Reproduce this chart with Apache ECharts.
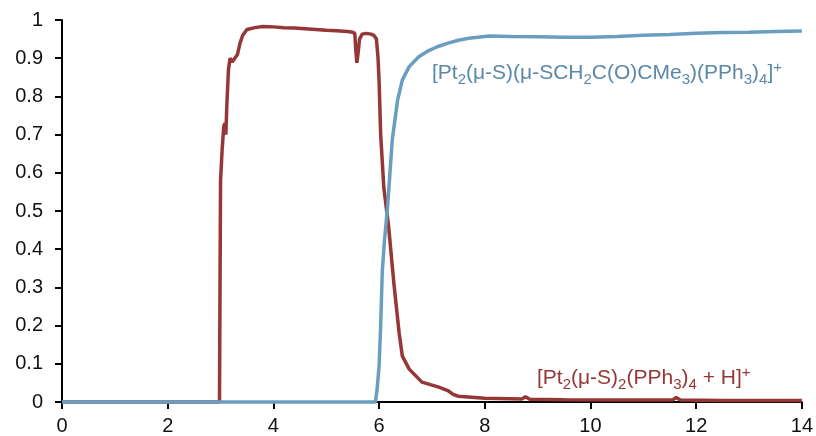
<!DOCTYPE html>
<html>
<head>
<meta charset="utf-8">
<script src="https://cdn.jsdelivr.net/npm/echarts@6/dist/echarts.min.js"></script>
<style>
  html, body { margin: 0; padding: 0; background: #fff; }
  #main { width: 816px; height: 436px; }
</style>
</head>
<body>
<div id="main"></div>
<script>
// data
var redX = [0, 2.98, 2.99, 3.0, 3.03, 3.06, 3.08, 3.1, 3.12, 3.15, 3.18, 3.22, 3.27, 3.32, 3.37, 3.42, 3.5, 3.65, 3.8, 4.0, 4.2, 4.4, 4.6, 4.8, 5.0, 5.2, 5.4, 5.5, 5.54, 5.56, 5.58, 5.6, 5.63, 5.68, 5.75, 5.85, 5.9, 5.95, 5.98, 6.0, 6.03, 6.09, 6.18, 6.28, 6.38, 6.44, 6.57, 6.81, 7.13, 7.3, 7.4, 7.5, 8.0, 8.7, 8.77, 8.85, 9.5, 10.5, 11.55, 11.62, 11.7, 12.5, 14];
var redY = [0, 0, 0.3, 0.58, 0.66, 0.72, 0.73, 0.70, 0.78, 0.87, 0.90, 0.89, 0.90, 0.91, 0.94, 0.96, 0.975, 0.98, 0.983, 0.982, 0.98, 0.979, 0.977, 0.975, 0.973, 0.972, 0.97, 0.968, 0.965, 0.92, 0.888, 0.91, 0.95, 0.963, 0.965, 0.963, 0.96, 0.95, 0.90, 0.84, 0.70, 0.56, 0.46, 0.31, 0.18, 0.12, 0.086, 0.052, 0.039, 0.03, 0.02, 0.015, 0.01, 0.008, 0.014, 0.007, 0.006, 0.005, 0.005, 0.012, 0.005, 0.004, 0.004];
var blueX = [0, 5.93, 5.96, 6.0, 6.03, 6.06, 6.1, 6.16, 6.25, 6.35, 6.44, 6.57, 6.75, 6.94, 7.1, 7.32, 7.5, 7.7, 8.08, 8.5, 9.0, 9.5, 10.0, 10.5, 11.0, 11.5, 12.0, 12.5, 13.0, 13.5, 14];
var blueY = [0, 0, 0.03, 0.094, 0.2, 0.34, 0.42, 0.51, 0.687, 0.79, 0.843, 0.878, 0.904, 0.92, 0.93, 0.94, 0.947, 0.952, 0.958, 0.957, 0.956, 0.955, 0.955, 0.957, 0.96, 0.962, 0.965, 0.967, 0.968, 0.97, 0.971];

var redColor = '#953735';
var blueColor = '#6a9ec0';

function pairs(xs, ys) {
    var out = [];
    for (var i = 0; i < xs.length; i++) out.push([xs[i], ys[i]]);
    return out;
}

var chart = echarts.init(document.getElementById('main'));

// rich text styles for the formula labels (sub / superscripts)
function richFor(color) {
    return {
        n: { fontSize: 21, fill: color, color: color, lineHeight: 27, verticalAlign: 'middle', fontFamily: 'Liberation Sans' },
        sb: { fontSize: 15, fill: color, color: color, lineHeight: 15, verticalAlign: 'bottom', fontFamily: 'Liberation Sans' },
        sp: { fontSize: 15, fill: color, color: color, lineHeight: 15, verticalAlign: 'top', fontFamily: 'Liberation Sans' }
    };
}

var option = {
    backgroundColor: '#fff',
    animation: false,
    grid: { left: 62, right: 12, top: 20, bottom: 34 },
    xAxis: {
        type: 'value',
        min: 0, max: 14, interval: 2,
        axisLine: { lineStyle: { color: '#000', width: 2 } },
        axisTick: { show: true, length: 7, lineStyle: { color: '#000', width: 2 } },
        axisLabel: { color: '#111', fontSize: 20, fontFamily: 'Liberation Sans', margin: 14 },
        splitLine: { show: false }
    },
    yAxis: {
        type: 'value',
        min: 0, max: 1, interval: 0.1,
        axisLine: { show: true, lineStyle: { color: '#000', width: 2 } },
        axisTick: { show: true, length: 7, lineStyle: { color: '#000', width: 2 } },
        axisLabel: {
            color: '#111', fontSize: 20, fontFamily: 'Liberation Sans', margin: 19,
            formatter: function (v) { return String(Math.round(v * 10) / 10); }
        },
        splitLine: { show: false }
    },
    series: [
        {
            type: 'line', data: pairs(redX, redY), showSymbol: false, clip: false,
            lineStyle: { color: redColor, width: 3.5 }
        },
        {
            type: 'line', data: pairs(blueX, blueY), showSymbol: false, clip: false,
            lineStyle: { color: blueColor, width: 3.5 }
        }
    ],
    graphic: [
        {
            type: 'text', left: 432, top: 60,
            style: {
                text: '{n|[Pt}{sb|2}{n|(μ-S)(μ-SCH}{sb|2}{n|C(O)CMe}{sb|3}{n|)(PPh}{sb|3}{n|)}{sb|4}{n|]}{sp|+}',
                rich: richFor('#5a88a8')
            }
        },
        {
            type: 'text', left: 537, top: 365,
            style: {
                text: '{n|[Pt}{sb|2}{n|(μ-S)}{sb|2}{n|(PPh}{sb|3}{n|)}{sb|4}{n| + H]}{sp|+}',
                rich: richFor(redColor)
            }
        }
    ]
};

chart.setOption(option);
</script>
</body>
</html>
